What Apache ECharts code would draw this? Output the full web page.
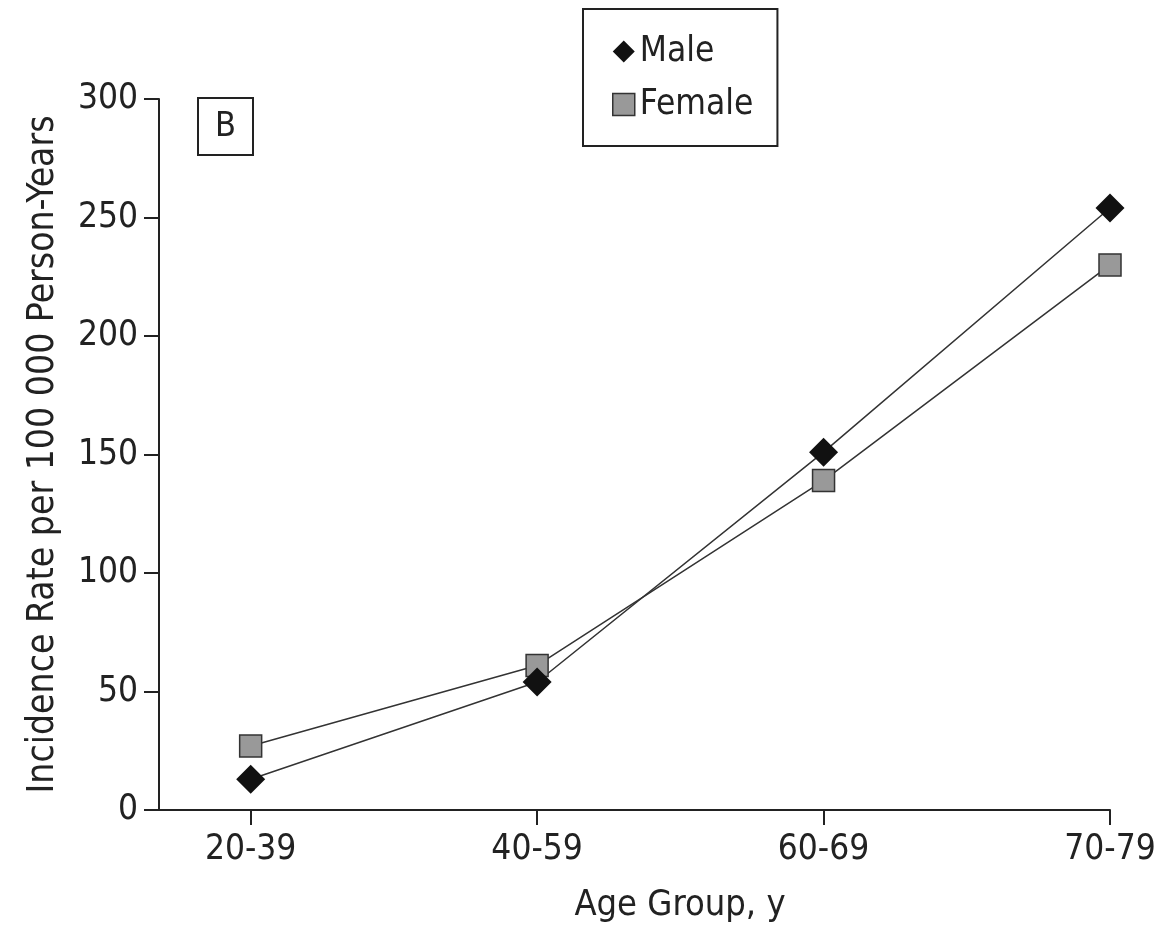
<!DOCTYPE html>
<html>
<head>
<meta charset="utf-8">
<script src="https://cdn.jsdelivr.net/npm/echarts@6/dist/echarts.min.js"></script>
<style>
  html, body { margin: 0; padding: 0; background: #fff; }
  #chart { width: 1159px; height: 927px; }
</style>
</head>
<body>
<div id="chart"></div>
<script>
const ageGroups = ['20-39', '40-59', '60-69', '70-79']
const male = [13, 54, 151, 254]
const female = [27, 61, 139, 230]
const yTicks = [0, 50, 100, 150, 200, 250, 300]

const font = '"Liberation Sans Narrow", "DejaVu Sans Condensed", "Liberation Sans", sans-serif'
const ink = '#222'

const chart = echarts.init(document.getElementById('chart'))

chart.setOption({
  animation: false,
  backgroundColor: '#fff',
  textStyle: { fontFamily: font, color: ink },
  grid: { left: 159, right: 49, top: 99, bottom: 117 },
  legend: {
    orient: 'vertical',
    left: 583,
    top: 9,
    padding: [25, 24, 24, 29],
    borderColor: '#222',
    borderWidth: 2,
    itemWidth: 22,
    itemHeight: 22,
    itemGap: 18,
    itemTextGap: 20,
    textStyle: { fontFamily: font, fontSize: 35, color: ink },
    data: [
      { name: 'Male', icon: 'diamond', itemStyle: { color: '#111', borderWidth: 0 } },
      { name: 'Female', icon: 'rect', itemStyle: { color: '#999', borderColor: '#333', borderWidth: 1.5 } },
    ],
  },
  graphic: [
    {
      type: 'rect',
      shape: { x: 198, y: 98, width: 55, height: 57 },
      style: { fill: '#fff', stroke: '#222', lineWidth: 2 },
    },
    {
      type: 'text',
      x: 225.5,
      y: 127,
      style: { text: 'B', font: `34px ${font}`, fill: ink, align: 'center', verticalAlign: 'middle' },
    },
    {
      type: 'text',
      x: 680,
      y: 906,
      style: { text: 'Age Group, y', font: `36px ${font}`, fill: ink, align: 'center', verticalAlign: 'middle' },
    },
  ],
  xAxis: {
    type: 'value',
    min: -0.32,
    max: ageGroups.length - 1,
    splitLine: { show: false },
    axisLine: { show: true, onZero: false, lineStyle: { color: '#222', width: 2 } },
    axisTick: {
      show: true,
      length: 15,
      lineStyle: { color: '#222', width: 2 },
      customValues: ageGroups.map((_, i) => i),
    },
    axisLabel: {
      margin: 22,
      fontSize: 35,
      color: ink,
      fontFamily: font,
      customValues: ageGroups.map((_, i) => i),
      formatter: v => ageGroups[Math.round(v)] ?? '',
    },
  },
  yAxis: {
    type: 'value',
    min: yTicks[0],
    max: yTicks[yTicks.length - 1],
    interval: 50,
    name: 'Incidence Rate per 100 000 Person-Years',
    nameLocation: 'middle',
    nameGap: 97,
    nameTextStyle: { fontSize: 37, color: ink, fontFamily: font },
    splitLine: { show: false },
    axisLine: { show: true, onZero: false, lineStyle: { color: '#222', width: 2 } },
    axisTick: { show: true, length: 15, lineStyle: { color: '#222', width: 2 } },
    axisLabel: { margin: 21, fontSize: 35, color: ink, fontFamily: font },
  },
  series: [
    {
      name: 'Female',
      type: 'line',
      data: female.map((v, i) => [i, v]),
      symbol: 'rect',
      symbolSize: 22,
      lineStyle: { color: '#333', width: 1.5 },
      itemStyle: { color: '#999', borderColor: '#333', borderWidth: 1.5 },
    },
    {
      name: 'Male',
      type: 'line',
      data: male.map((v, i) => [i, v]),
      symbol: 'diamond',
      symbolSize: 29,
      lineStyle: { color: '#333', width: 1.5 },
      itemStyle: { color: '#111', borderWidth: 0 },
    },
  ],
})
</script>
</body>
</html>
